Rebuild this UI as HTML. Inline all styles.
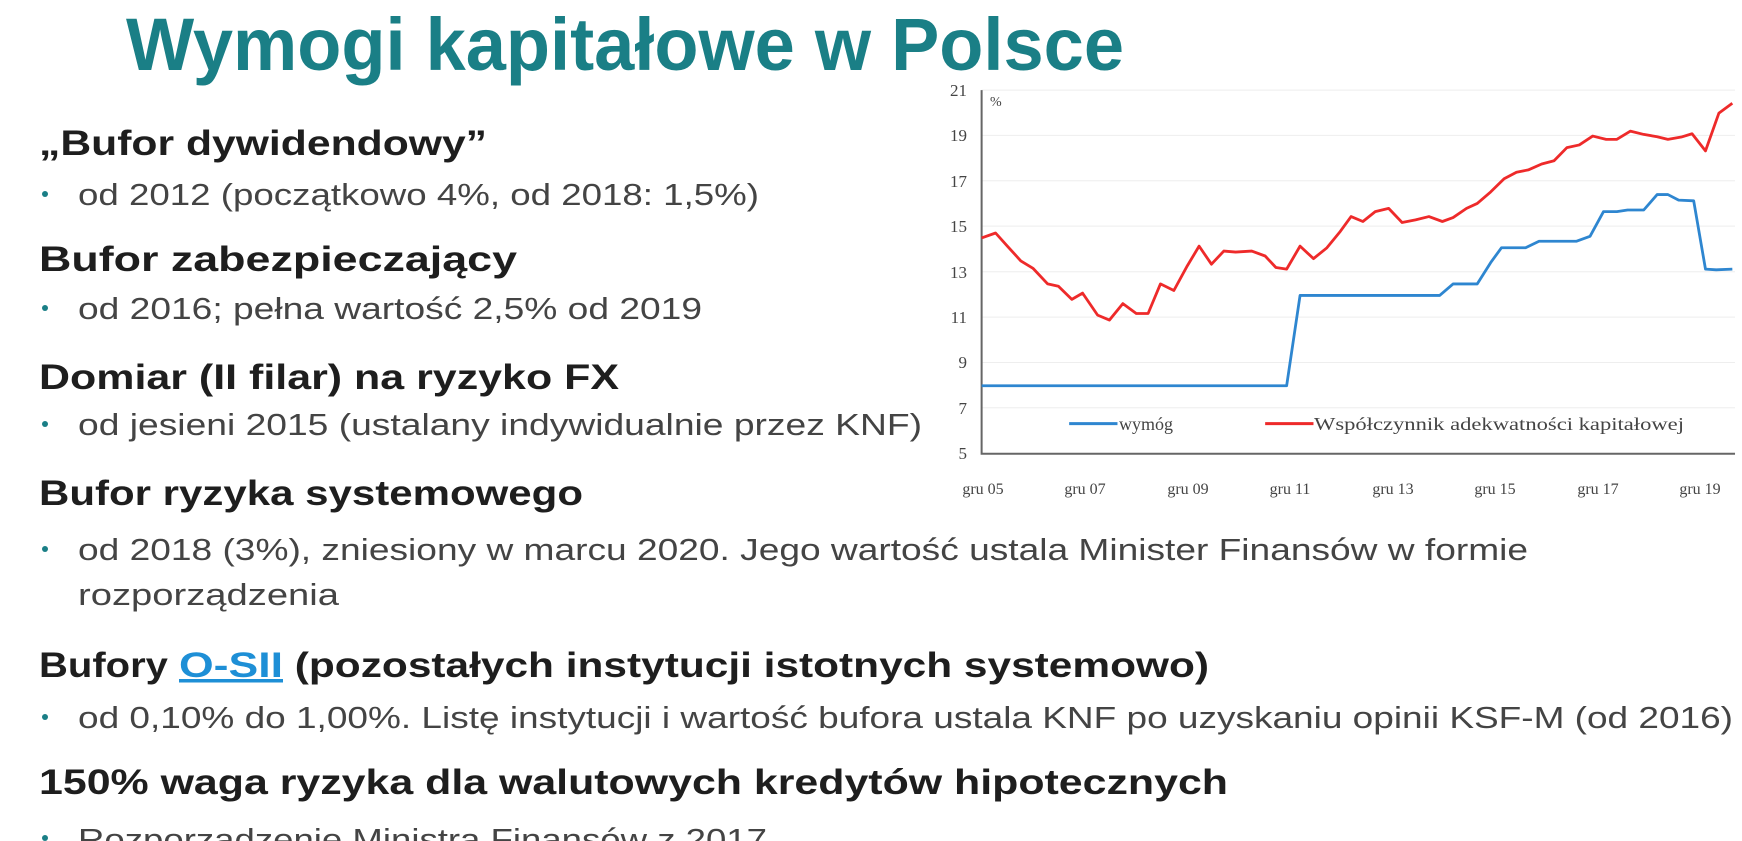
<!DOCTYPE html>
<html><head><meta charset="utf-8"><style>html,body{margin:0;padding:0;background:#fff;overflow:hidden}svg{display:block}</style></head>
<body>
<svg width="1742" height="841" viewBox="0 0 1742 841" xmlns="http://www.w3.org/2000/svg">
<rect width="1742" height="841" fill="#fff"/>
<g font-family="Liberation Sans, DejaVu Sans, sans-serif">
<text x="126" y="70" font-size="74" font-weight="bold" fill="#1a7f86" textLength="998" lengthAdjust="spacingAndGlyphs">Wymogi kapitałowe w Polsce</text>
<g font-size="35" font-weight="bold" fill="#1e1e1e">
<text x="39" y="155" textLength="448" lengthAdjust="spacingAndGlyphs">„Bufor dywidendowy”</text>
<text x="39" y="271" textLength="478" lengthAdjust="spacingAndGlyphs">Bufor zabezpieczający</text>
<text x="39" y="389" textLength="580" lengthAdjust="spacingAndGlyphs">Domiar (II filar) na ryzyko FX</text>
<text x="39" y="505" textLength="544" lengthAdjust="spacingAndGlyphs">Bufor ryzyka systemowego</text>
<text x="39" y="677">
<tspan textLength="140" lengthAdjust="spacingAndGlyphs">Bufory </tspan><tspan fill="#1e8fd6" text-decoration="underline" textLength="104" lengthAdjust="spacingAndGlyphs">O-SII</tspan><tspan textLength="926" lengthAdjust="spacingAndGlyphs"> (pozostałych instytucji istotnych systemowo)</tspan></text>
<text x="39" y="794" textLength="1189" lengthAdjust="spacingAndGlyphs">150% waga ryzyka dla walutowych kredytów hipotecznych</text>
</g>
<g fill="#1a7f86">
<circle cx="45" cy="194" r="3"/><circle cx="45" cy="308" r="3"/><circle cx="45" cy="424" r="3"/><circle cx="45" cy="549" r="3"/><circle cx="45" cy="717" r="3"/><circle cx="45" cy="838" r="3"/>
</g>
<g font-size="31" fill="#444">
<text x="78" y="205" textLength="681" lengthAdjust="spacingAndGlyphs">od 2012 (początkowo 4%, od 2018: 1,5%)</text>
<text x="78" y="319" textLength="624" lengthAdjust="spacingAndGlyphs">od 2016; pełna wartość 2,5% od 2019</text>
<text x="78" y="435" textLength="844" lengthAdjust="spacingAndGlyphs">od jesieni 2015 (ustalany indywidualnie przez KNF)</text>
<text x="78" y="560" textLength="1450" lengthAdjust="spacingAndGlyphs">od 2018 (3%), zniesiony w marcu 2020. Jego wartość ustala Minister Finansów w formie</text>
<text x="78" y="605" textLength="261" lengthAdjust="spacingAndGlyphs">rozporządzenia</text>
<text x="78" y="728" textLength="1655" lengthAdjust="spacingAndGlyphs">od 0,10% do 1,00%. Listę instytucji i wartość bufora ustala KNF po uzyskaniu opinii KSF-M (od 2016)</text>
<text x="78" y="850" textLength="689" lengthAdjust="spacingAndGlyphs">Rozporządzenie Ministra Finansów z 2017</text>
</g>
</g>
<svg x="900" y="72" width="842" height="437" viewBox="0 0 1568 1330" preserveAspectRatio="none">
<g stroke="#eee" stroke-width="1">
<line x1="152" y1="55" x2="1555" y2="55" vector-effect="non-scaling-stroke"/>
<line x1="152" y1="193" x2="1555" y2="193" vector-effect="non-scaling-stroke"/>
<line x1="152" y1="331" x2="1555" y2="331" vector-effect="non-scaling-stroke"/>
<line x1="152" y1="469" x2="1555" y2="469" vector-effect="non-scaling-stroke"/>
<line x1="152" y1="608" x2="1555" y2="608" vector-effect="non-scaling-stroke"/>
<line x1="152" y1="746" x2="1555" y2="746" vector-effect="non-scaling-stroke"/>
<line x1="152" y1="884" x2="1555" y2="884" vector-effect="non-scaling-stroke"/>
<line x1="152" y1="1022" x2="1555" y2="1022" vector-effect="non-scaling-stroke"/>
</g>
<polyline fill="none" stroke="#666" stroke-width="2" vector-effect="non-scaling-stroke" points="152,55 152,1162 1555,1162"/>
<polyline fill="none" stroke="#ee2a2a" stroke-width="2.8" vector-effect="non-scaling-stroke" stroke-linejoin="round" points="152,505 178,490 200,530 225,575 248,598 275,645 295,652 320,692 340,673 368,740 390,755 415,705 440,735 462,735 485,645 510,665 535,590 557,530 580,585 603,545 625,548 655,545 680,560 700,595 720,600 745,530 770,568 795,535 820,485 840,440 862,455 885,425 910,415 935,458 960,450 985,440 1010,455 1030,443 1055,415 1075,400 1100,365 1125,325 1148,305 1170,298 1195,280 1218,270 1242,230 1265,222 1290,195 1315,205 1335,205 1360,180 1385,190 1410,197 1430,205 1455,198 1475,188 1500,240 1525,125 1550,95"/>
<polyline fill="none" stroke="#2e86d0" stroke-width="2.8" vector-effect="non-scaling-stroke" stroke-linejoin="round" points="152,955 720,955 745,680 1005,680 1030,645 1075,645 1100,580 1120,535 1165,535 1190,515 1260,515 1285,500 1310,425 1335,425 1355,420 1385,420 1410,373 1430,373 1450,390 1478,392 1500,600 1520,602 1550,600"/>
<line x1="315" y1="1070" x2="405" y2="1070" stroke="#2e86d0" stroke-width="3" vector-effect="non-scaling-stroke"/>
<line x1="680" y1="1070" x2="770" y2="1070" stroke="#ee2a2a" stroke-width="3" vector-effect="non-scaling-stroke"/>
</svg>
<g font-family="Liberation Serif, DejaVu Serif, serif" fill="#444" font-size="17">
<g text-anchor="end">
<text x="967" y="96">21</text><text x="967" y="141">19</text><text x="967" y="187">17</text><text x="967" y="232">15</text><text x="967" y="278">13</text><text x="967" y="323">11</text><text x="967" y="368">9</text><text x="967" y="414">7</text><text x="967" y="459">5</text>
</g>
<text x="990" y="106" font-size="14">%</text>
<g text-anchor="middle" font-size="16">
<text x="983" y="494">gru 05</text><text x="1085" y="494">gru 07</text><text x="1188" y="494">gru 09</text><text x="1290" y="494">gru 11</text><text x="1393" y="494">gru 13</text><text x="1495" y="494">gru 15</text><text x="1598" y="494">gru 17</text><text x="1700" y="494">gru 19</text>
</g>
<text x="1119" y="430" font-size="18">wymóg</text>
<text x="1314" y="430" font-size="18" textLength="370" lengthAdjust="spacingAndGlyphs">Współczynnik adekwatności kapitałowej</text>
</g>
</svg>
</body></html>
